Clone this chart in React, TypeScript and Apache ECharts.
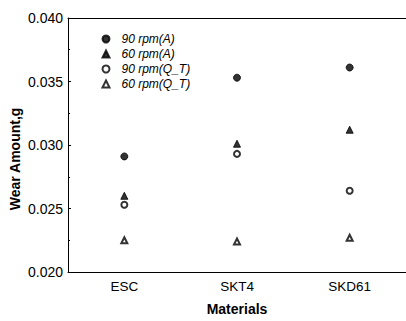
import React, { useEffect, useRef } from "react";
import * as echarts from "echarts";

const categories = ["ESC", "SKT4", "SKD61"];
const rpm90A = [0.0291, 0.0353, 0.0361];
const rpm60A = [0.026, 0.0301, 0.0312];
const rpm90QT = [0.0253, 0.0293, 0.0264];
const rpm60QT = [0.0225, 0.0224, 0.0227];
const seriesNames = ["90 rpm(A)", "60 rpm(A)", "90 rpm(Q_T)", "60 rpm(Q_T)"];

const FONT = "'Liberation Sans', Arial, sans-serif";

export default function App() {
  const ref = useRef<HTMLDivElement>(null);
  useEffect(() => {
    if (!ref.current) return;
    const chart = echarts.init(ref.current, undefined, { renderer: "svg" });
    const mk = (name: string, data: number[], symbol: string, size: number) => ({
      name,
      type: "scatter",
      data,
      symbol,
      symbolSize: size,
      itemStyle: { color: "#000", borderColor: "#000", borderWidth: 1 },
    });
    chart.setOption({
      animation: false,
      backgroundColor: "#fff",
      grid: { left: 68, top: 18, width: 340, height: 256 },
      legend: {
        orient: "vertical",
        left: 96.5,
        top: 28,
        itemWidth: 7,
        itemHeight: 7,
        itemGap: 3,
        data: seriesNames,
        textStyle: {
          fontFamily: FONT,
          fontStyle: "italic",
          fontSize: 12,
          lineHeight: 12,
          color: "#000",
          padding: [0, 0, 0, 7],
        },
      },
      xAxis: [
        {
          type: "category",
          data: categories,
          boundaryGap: true,
          axisLine: { lineStyle: { color: "#000", width: 1 } },
          axisTick: { inside: true, length: 3, alignWithLabel: true, lineStyle: { color: "#000" } },
          axisLabel: { margin: 7, fontFamily: FONT, fontSize: 13.5, color: "#000" },
          name: "Materials",
          nameLocation: "middle",
          nameGap: 30,
          nameTextStyle: { fontFamily: FONT, fontSize: 14, fontWeight: "bold", color: "#000" },
        },
        {
          type: "category",
          data: categories,
          position: "top",
          axisLine: { lineStyle: { color: "#000", width: 1 } },
          axisTick: { show: false },
          axisLabel: { show: false },
        },
      ],
      yAxis: {
        type: "value",
        min: 0.02,
        max: 0.04,
        interval: 0.005,
        axisLine: { show: true, lineStyle: { color: "#000", width: 1 } },
        axisTick: { show: true, inside: true, length: 3, lineStyle: { color: "#000" } },
        minorTick: { show: true, splitNumber: 2, length: 2, lineStyle: { color: "#000" } },
        splitLine: { show: false },
        axisLabel: {
          margin: 5,
          fontFamily: FONT,
          fontSize: 14,
          color: "#000",
          formatter: (v: number) => v.toFixed(3),
        },
      },
      graphic: [
        {
          type: "text",
          x: 15,
          y: 159,
          rotation: Math.PI / 2,
          style: {
            text: "Wear Amount,g",
            fontFamily: FONT,
            fontSize: 14,
            fontWeight: "bold",
            fill: "#000",
            align: "center",
            verticalAlign: "middle",
          },
        },
      ],
      series: [
        mk(seriesNames[0], rpm90A, "circle", 7),
        mk(seriesNames[1], rpm60A, "triangle", 7),
        mk(seriesNames[2], rpm90QT, "emptyCircle", 6),
        mk(seriesNames[3], rpm60QT, "emptyTriangle", 6),
      ],
    });
    return () => chart.dispose();
  }, []);
  return (
    <div
      ref={ref}
      style={{ position: "fixed", left: 0, top: 0, width: 406, height: 321, background: "#fff" }}
    />
  );
}
